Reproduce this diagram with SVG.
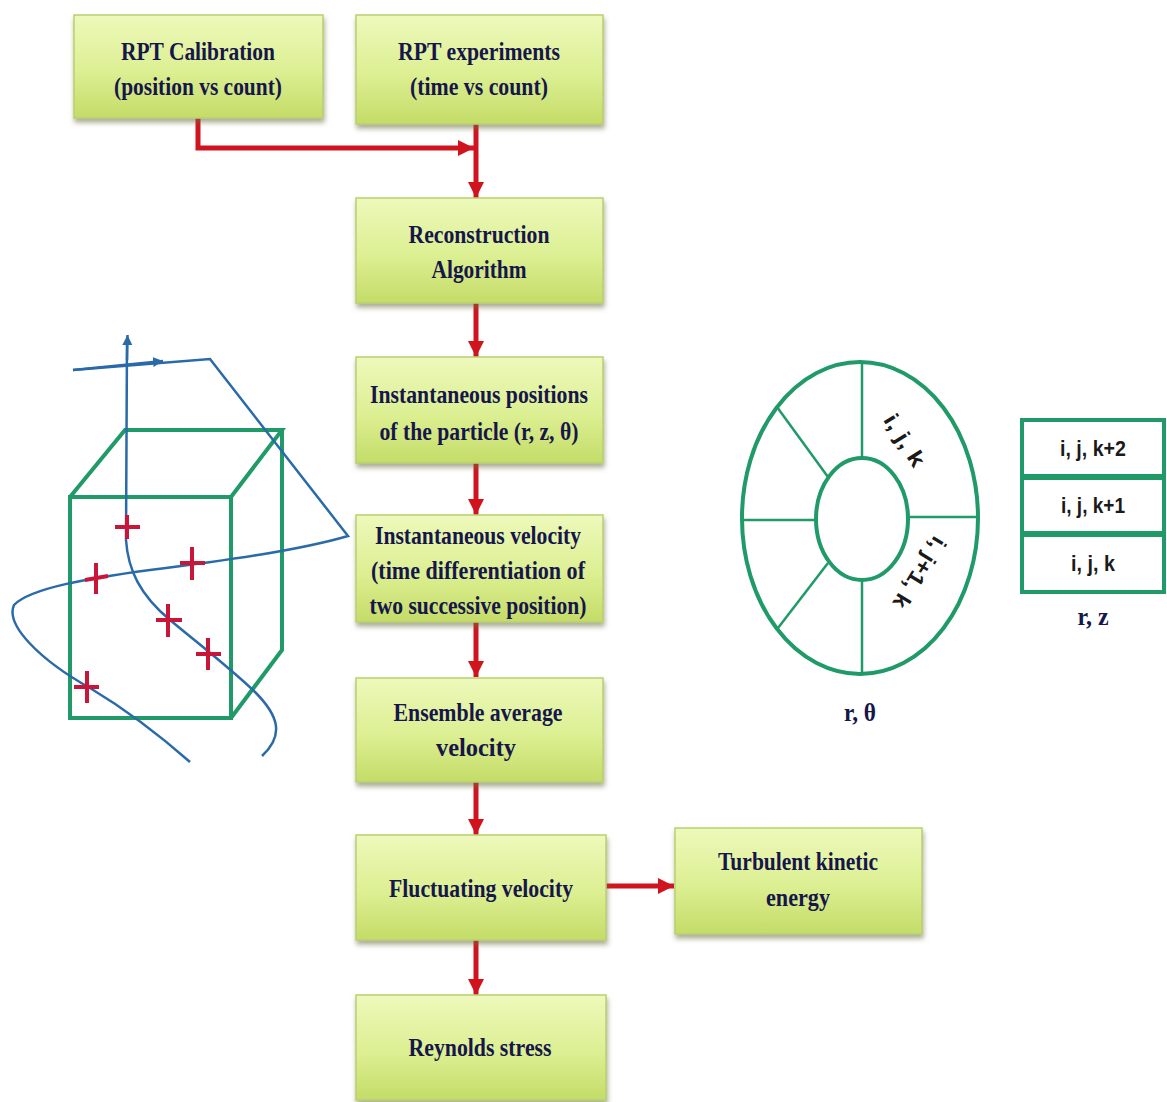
<svg xmlns="http://www.w3.org/2000/svg" width="1167" height="1102" viewBox="0 0 1167 1102">
  <style>
    .box { fill: url(#boxFill); stroke: #b9cf72; stroke-width: 1.5; filter: url(#shadow); }
    .lbl { font-family: "Liberation Serif", "Times New Roman", serif; font-weight: bold; font-size: 25px; fill: #16164a; text-anchor: middle; }
    .flow { stroke: #d0141e; stroke-width: 5; fill: none; }
    .green { stroke: #1f9a68; fill: none; }
    .path { stroke: #2a6aa8; stroke-width: 2.5; fill: none; }
    .cross { stroke: #c8163a; stroke-width: 4; }
    .cell { font-family: "Liberation Sans", Arial, sans-serif; font-weight: bold; font-size: 22px; fill: #1a1a1a; text-anchor: middle; }
  </style>
  <defs>
    <linearGradient id="boxFill" x1="0" y1="0" x2="0" y2="1">
      <stop offset="0" stop-color="#edf9bb"/>
      <stop offset="0.55" stop-color="#dcef92"/>
      <stop offset="1" stop-color="#c4dc68"/>
    </linearGradient>
    <filter id="shadow" x="-5%" y="-5%" width="112%" height="125%">
      <feDropShadow dx="1" dy="4" stdDeviation="2.5" flood-color="#6b6b40" flood-opacity="0.55"/>
    </filter>
    <marker id="redHead" markerUnits="userSpaceOnUse" markerWidth="20" markerHeight="20" refX="16" refY="8" orient="auto">
      <path d="M0,0 L16,8 L0,16 Z" fill="#d0141e"/>
    </marker>
    <marker id="blueHead" markerUnits="userSpaceOnUse" markerWidth="14" markerHeight="14" refX="10" refY="5" orient="auto">
      <path d="M0,0 L10,5 L0,10 Z" fill="#2a6aa8"/>
    </marker>
  </defs>

  <rect width="1167" height="1102" fill="#ffffff"/>

  <!-- Process flow connectors -->
  <g id="connectors">
    <polyline class="flow" points="198,118 198,148 474,148" marker-end="url(#redHead)"/>
    <line class="flow" x1="476" y1="124" x2="476" y2="198" marker-end="url(#redHead)"/>
    <line class="flow" x1="476" y1="303" x2="476" y2="357" marker-end="url(#redHead)"/>
    <line class="flow" x1="476" y1="463" x2="476" y2="515" marker-end="url(#redHead)"/>
    <line class="flow" x1="476" y1="622" x2="476" y2="677" marker-end="url(#redHead)"/>
    <line class="flow" x1="476" y1="782" x2="476" y2="835" marker-end="url(#redHead)"/>
    <line class="flow" x1="476" y1="940" x2="476" y2="995" marker-end="url(#redHead)"/>
    <line class="flow" x1="606" y1="886" x2="674" y2="886" marker-end="url(#redHead)"/>
  </g>

  <!-- Process steps -->
  <g id="calibration">
    <rect class="box" x="74" y="15" width="249" height="103"/>
    <text class="lbl" x="198" y="60" textLength="154" lengthAdjust="spacingAndGlyphs">RPT Calibration</text>
    <text class="lbl" x="198" y="95" textLength="168" lengthAdjust="spacingAndGlyphs">(position vs count)</text>
  </g>
  <g id="experiments">
    <rect class="box" x="356" y="15" width="247" height="109"/>
    <text class="lbl" x="479" y="60" textLength="162" lengthAdjust="spacingAndGlyphs">RPT experiments</text>
    <text class="lbl" x="479" y="95" textLength="138" lengthAdjust="spacingAndGlyphs">(time vs count)</text>
  </g>
  <g id="reconstruction">
    <rect class="box" x="356" y="198" width="247" height="105"/>
    <text class="lbl" x="479" y="243" textLength="141" lengthAdjust="spacingAndGlyphs">Reconstruction</text>
    <text class="lbl" x="479" y="278" textLength="95" lengthAdjust="spacingAndGlyphs">Algorithm</text>
  </g>
  <g id="positions">
    <rect class="box" x="356" y="357" width="247" height="106"/>
    <text class="lbl" x="479" y="403" textLength="218" lengthAdjust="spacingAndGlyphs">Instantaneous positions</text>
    <text class="lbl" x="479" y="440" textLength="199" lengthAdjust="spacingAndGlyphs">of the particle (r, z, θ)</text>
  </g>
  <g id="inst-velocity">
    <rect class="box" x="356" y="515" width="247" height="107"/>
    <text class="lbl" x="478" y="544" textLength="206" lengthAdjust="spacingAndGlyphs">Instantaneous velocity</text>
    <text class="lbl" x="478" y="579" textLength="214" lengthAdjust="spacingAndGlyphs">(time differentiation of</text>
    <text class="lbl" x="478" y="614" textLength="217" lengthAdjust="spacingAndGlyphs">two successive position)</text>
  </g>
  <g id="ensemble">
    <rect class="box" x="356" y="678" width="247" height="104"/>
    <text class="lbl" x="478" y="721" textLength="169" lengthAdjust="spacingAndGlyphs">Ensemble average</text>
    <text class="lbl" x="476" y="756" textLength="80" lengthAdjust="spacingAndGlyphs">velocity</text>
  </g>
  <g id="fluctuating">
    <rect class="box" x="356" y="835" width="250" height="105"/>
    <text class="lbl" x="481" y="897" textLength="184" lengthAdjust="spacingAndGlyphs">Fluctuating velocity</text>
  </g>
  <g id="tke">
    <rect class="box" x="675" y="828" width="247" height="106"/>
    <text class="lbl" x="798" y="870" textLength="160" lengthAdjust="spacingAndGlyphs">Turbulent kinetic</text>
    <text class="lbl" x="798" y="906" textLength="64" lengthAdjust="spacingAndGlyphs">energy</text>
  </g>
  <g id="reynolds">
    <rect class="box" x="356" y="995" width="250" height="105"/>
    <text class="lbl" x="480" y="1056" textLength="143" lengthAdjust="spacingAndGlyphs">Reynolds stress</text>
  </g>

  <!-- Cube with particle trajectories -->
  <g id="cube-sketch">
    <g class="green" stroke-width="4" stroke-linejoin="miter">
      <rect x="70" y="497" width="161" height="221"/>
      <polyline points="70,497 125,430 282,430 231,497"/>
      <polyline points="282,430 282,650 231,718"/>
    </g>
    <path class="path" d="M73,370 L210,359 L348,536 C300,550 230,560 150,570 C90,578 30,588 14,605 C5,625 40,660 90,688 C130,712 165,740 190,762"/>
    <line class="path" x1="73" y1="370" x2="163" y2="361" marker-end="url(#blueHead)"/>
    <path class="path" d="M262,756 C285,735 278,715 255,692 C230,668 200,645 170,620 C140,595 128,570 126,540 L127,340"/>
    <line class="path" x1="127" y1="360" x2="127.5" y2="335" marker-end="url(#blueHead)"/>
    <g class="cross">
      <line x1="115" y1="527" x2="140" y2="527"/><line x1="127" y1="515" x2="127" y2="539"/>
      <line x1="85" y1="580" x2="108" y2="576"/><line x1="96" y1="563" x2="96" y2="594"/>
      <line x1="180" y1="563" x2="205" y2="563"/><line x1="192" y1="547" x2="192" y2="580"/>
      <line x1="156" y1="620" x2="182" y2="620"/><line x1="168" y1="604" x2="168" y2="637"/>
      <line x1="196" y1="654" x2="221" y2="654"/><line x1="208" y1="638" x2="208" y2="670"/>
      <line x1="74" y1="687" x2="99" y2="687"/><line x1="87" y1="671" x2="87" y2="703"/>
    </g>
  </g>

  <!-- Polar (r, theta) cell grid -->
  <g id="polar-grid">
    <g class="green" stroke-width="4">
      <ellipse cx="860" cy="518" rx="118" ry="156"/>
      <ellipse cx="862" cy="519" rx="46" ry="61"/>
    </g>
    <g class="green" stroke-width="2.5">
      <line x1="862" y1="362" x2="862" y2="458"/>
      <line x1="862" y1="580" x2="862" y2="674"/>
      <line x1="742" y1="520" x2="816" y2="520"/>
      <line x1="908" y1="517" x2="978" y2="517"/>
      <line x1="777" y1="407" x2="828" y2="477"/>
      <line x1="828" y1="563" x2="778" y2="628"/>
    </g>
    <text class="cell" transform="translate(905,440) rotate(58)" dy="8" textLength="58" lengthAdjust="spacingAndGlyphs">i, j, k</text>
    <text class="cell" transform="translate(920,573) rotate(122)" dy="8" textLength="80" lengthAdjust="spacingAndGlyphs">i, j+1, k</text>
    <text class="lbl" x="860" y="721" textLength="32" lengthAdjust="spacingAndGlyphs">r, θ</text>
  </g>

  <!-- Axial (r, z) cell stack -->
  <g id="axial-stack">
    <rect x="1022" y="420" width="142" height="172" fill="#ffffff" stroke="#1f9a68" stroke-width="4"/>
    <line x1="1022" y1="477" x2="1164" y2="477" stroke="#1f9a68" stroke-width="6"/>
    <line x1="1022" y1="534" x2="1164" y2="534" stroke="#1f9a68" stroke-width="6"/>
    <text class="cell" x="1093" y="456" textLength="66" lengthAdjust="spacingAndGlyphs">i, j, k+2</text>
    <text class="cell" x="1093" y="513" textLength="64" lengthAdjust="spacingAndGlyphs">i, j, k+1</text>
    <text class="cell" x="1093" y="571" textLength="44" lengthAdjust="spacingAndGlyphs">i, j, k</text>
    <text class="lbl" x="1093" y="625" textLength="31" lengthAdjust="spacingAndGlyphs">r, z</text>
  </g>
</svg>
